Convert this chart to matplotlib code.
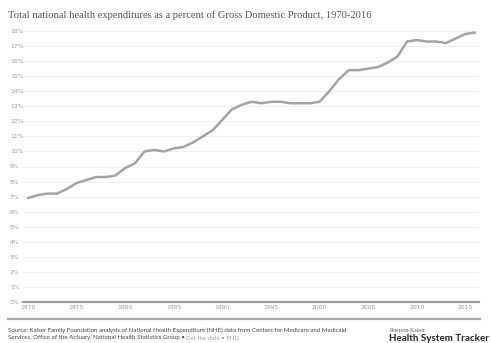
#!/usr/bin/env python3
"""
Total national health expenditures as a percent of GDP, 1970-2016.
"""

import matplotlib
matplotlib.use('Agg')
import matplotlib.pyplot as plt

# Data
years = list(range(1970, 2017))
pct_gdp = [6.9, 7.1, 7.2, 7.2, 7.5, 7.9, 8.1, 8.3, 8.3, 8.4,
           8.9, 9.2, 10.0, 10.1, 10.0, 10.2, 10.3, 10.6, 11.0, 11.4,
           12.1, 12.8, 13.1, 13.3, 13.2, 13.3, 13.3, 13.2, 13.2, 13.2,
           13.3, 14.0, 14.8, 15.4, 15.4, 15.5, 15.6, 15.9, 16.3, 17.3,
           17.4, 17.3, 17.3, 17.2, 17.5, 17.8, 17.9]
x_ticks = [1970, 1975, 1980, 1985, 1990, 1995, 2000, 2005, 2010, 2015]
y_ticks = list(range(0, 19))

title = 'Total national health expenditures as a percent of Gross Domestic Product, 1970-2016'
source_1 = ('Source: Kaiser Family Foundation analysis of National Health Expenditure (NHE) '
            'data from Centers for Medicare and Medicaid')
source_2 = 'Services, Office of the Actuary, National Health Statistics Group \u2022 '
source_links = 'Get the data \u2022 PNG'

W, H = 491, 343
fig = plt.figure(figsize=(W / 100, H / 100), dpi=100)
ax = fig.add_axes([23 / W, 1 - 302 / H, (479 - 23) / W, (302 - 31) / H])

# Line
ax.plot(years, pct_gdp, color='#a3a3a3', lw=1.8, solid_capstyle='round', zorder=3)

# Axes styling
ax.set_xlim(1969.5, 2016.4)
ax.set_ylim(0, 18)
ax.set_yticks(y_ticks)
ax.set_yticklabels([f'{v}%' for v in y_ticks])
ax.set_xticks(x_ticks)
ax.set_xticklabels([str(v) for v in x_ticks])
ax.grid(axis='y', color='#efefef', lw=0.8)
ax.set_axisbelow(True)
for side in ['top', 'right', 'left']:
    ax.spines[side].set_visible(False)
ax.spines['bottom'].set_color('#9a9a9a')
ax.spines['bottom'].set_linewidth(1.5)
ax.tick_params(axis='both', length=0, labelsize=4.3, labelcolor='#9a9a9a',
               pad=2)
for lbl in ax.get_yticklabels():
    lbl.set_horizontalalignment('left')
ax.tick_params(axis='y', pad=9.4)

# Title
fig.text(8 / W, 1 - 15 / H, title, fontsize=7.6, family='Liberation Serif',
         color='#555555', va='center', ha='left')

# Separator line
fig.add_artist(plt.Line2D([8 / W, 480 / W], [1 - 319 / H, 1 - 319 / H],
                          color='#a8a8a8', lw=1.6))

# Source text
fig.text(8 / W, 1 - 330 / H, source_1, fontsize=4.4, color='#444444',
         va='center', ha='left', family='Lato')
t = fig.text(8 / W, 1 - 338 / H, source_2, fontsize=4.4, color='#444444',
             va='center', ha='left', family='Lato')
fig.canvas.draw()
bb = t.get_window_extent()
fig.text(bb.x1 / W, 1 - 338 / H, source_links, fontsize=4.4, color='#a0a0a0',
         va='center', ha='left', family='Lato')

# Logo text
fig.text(390 / W, 1 - 330 / H, 'Peterson-Kaiser', fontsize=4,
         family='Liberation Serif', color='#555555', va='center', ha='left')
fig.text(389 / W, 1 - 338.5 / H, 'Health System Tracker', fontsize=7.1,
         fontweight='bold', color='#222222', va='center', ha='left',
         family='Lato')

plt.savefig('out.png', dpi=100)
